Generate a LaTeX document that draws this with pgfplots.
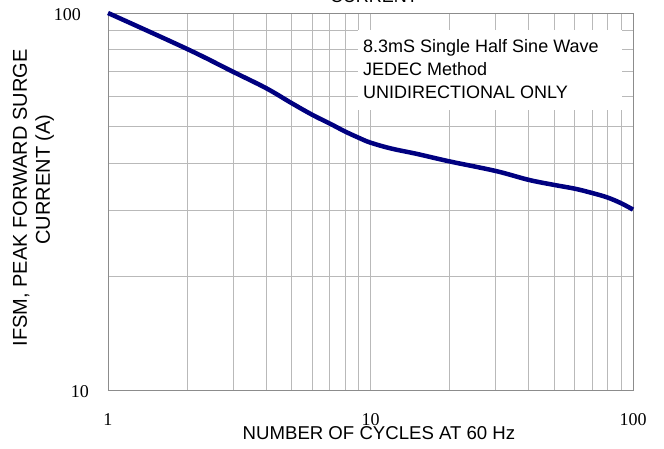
\documentclass[border=0pt]{standalone}
\usepackage{fontspec}
\setmainfont{Liberation Sans}
\newfontfamily\serifnum{Liberation Serif}
\usepackage{pgfplots}
\pgfplotsset{compat=1.18}
\definecolor{curve}{RGB}{0,0,128}
\definecolor{gridc}{RGB}{185,185,185}
\definecolor{framec}{RGB}{140,140,140}
\begin{document}
\begin{tikzpicture}[x=1pt,y=1pt]
\begin{axis}[
  at={(0,0)}, anchor=south west,
  scale only axis, width=525pt, height=377pt,
  xmode=log, ymode=log,
  xmin=1, xmax=100, ymin=10, ymax=100,
  /pgf/number format/assume math mode=true,
  grid=both,
  major grid style={draw=gridc, line width=0.7pt},
  minor grid style={draw=gridc, line width=0.7pt},
  axis line style={draw=framec, line width=0.9pt},
  major tick length=0pt, minor tick length=0pt,
  xtick={1,10,100}, xticklabels={\serifnum 1,\serifnum 10,\serifnum 100},
  ytick={10,100}, yticklabels={\serifnum 10,\serifnum 100\hspace*{8pt}},
  xticklabel style={font=\serifnum\fontsize{18}{18}\selectfont, anchor=base, inner sep=0pt, yshift=-35pt},
  yticklabel style={font=\serifnum\fontsize{18}{18}\selectfont, anchor=base east, inner sep=0pt, xshift=-19pt, yshift=-8pt},
  clip=false,
]
\addplot[curve, line width=4.5pt, smooth, tension=0.6] coordinates {
 (1,100) (2,80.3) (3,69.8) (4,63.2) (5,57.7) (6,53.7) (7,50.9) (8,48.5) (9,46.7) (10,45.3)
 (12,43.7) (15,42.3) (20,40.4) (30,38.1) (40,36.1) (50,35.0) (60,34.2) (70,33.3) (80,32.4) (90,31.3) (100,30.1)
};
\end{axis}
\fill[white] (250,280) rectangle (514,360);
\node[anchor=base west, inner sep=0pt, font=\fontsize{18}{18}\selectfont] at (255,337) {8.3mS Single Half Sine Wave};
\node[anchor=base west, inner sep=0pt, font=\fontsize{18}{18}\selectfont] at (255,315) {JEDEC Method};
\node[anchor=base west, inner sep=0pt, font=\fontsize{18}{18}\selectfont] at (255,291) {UNIDIRECTIONAL ONLY};
\node[anchor=base, inner sep=0pt, font=\fontsize{18}{18}\selectfont] at (266,387) {CURRENT};
\node[anchor=base, inner sep=0pt, font=\fontsize{18.6}{18.6}\selectfont] at (271,-49) {NUMBER OF CYCLES AT 60 Hz};
\node[anchor=base, inner sep=0pt, rotate=90, font=\fontsize{20}{20}\selectfont] at (-81,192) {IFSM, PEAK FORWARD SURGE};
\node[anchor=base, inner sep=0pt, rotate=90, font=\fontsize{20}{20}\selectfont] at (-58,210.5) {CURRENT (A)};
\pgfresetboundingbox
\path[use as bounding box] (-108,-58) rectangle (556,390);
\end{tikzpicture}
\end{document}
